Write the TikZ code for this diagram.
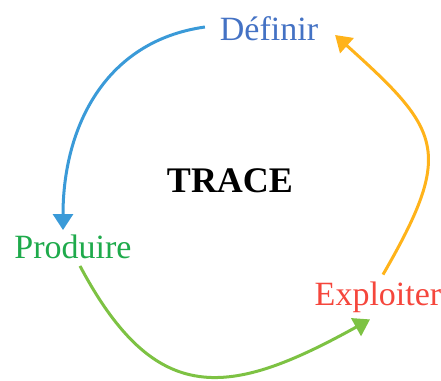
\documentclass[tikz,border=0pt]{standalone}
\usepackage{fontspec}
\setmainfont{Liberation Serif}
\definecolor{defblue}{RGB}{68, 114, 196}
\definecolor{arcblue}{RGB}{58, 154, 216}
\definecolor{prodgreen}{RGB}{30, 170, 75}
\definecolor{arcgreen}{RGB}{125, 194, 67}
\definecolor{explred}{RGB}{245, 70, 60}
\definecolor{arcorange}{RGB}{255, 179, 26}
\usetikzlibrary{arrows.meta, positioning}

\begin{document}
\begin{tikzpicture}[
        x=0.5pt, y=-0.5pt,
        stage/.style={inner sep=3.3pt, font=\fontsize{17}{19}\selectfont},
        title/.style={inner sep=3.3pt, font=\fontsize{18}{20}\selectfont\bfseries},
        arc/.style={-{Triangle[length=8pt, width=10pt]}, line width=1.5pt}
    ]
        \useasboundingbox (0,0) rectangle (441,381);

        \node[stage, text=defblue] (def) at (269,29) {Définir};
        \node[stage, text=prodgreen] (prod) at (73,247) {Produire};
        \node[stage, text=explred] (expl) at (378,297) {Exploiter};
        \node[title] (trace) at (230,181) {TRACE};

        \draw[arc, arcblue] ([xshift=-4pt, yshift=1pt]def.west) to[out=188, in=90, looseness=1.05] ([xshift=-5pt, yshift=-1pt]prod.north);
        \draw[arc, arcgreen] ([xshift=3.5pt]prod.south) to[out=-62, in=209, looseness=1.4] ([xshift=-4pt]expl.south);
        \draw[arc, arcorange] ([xshift=2.5pt]expl.north) to[out=60, in=-42, looseness=1.5] ([xshift=5pt, yshift=-3pt]def.east);
    \end{tikzpicture}
\end{document}
